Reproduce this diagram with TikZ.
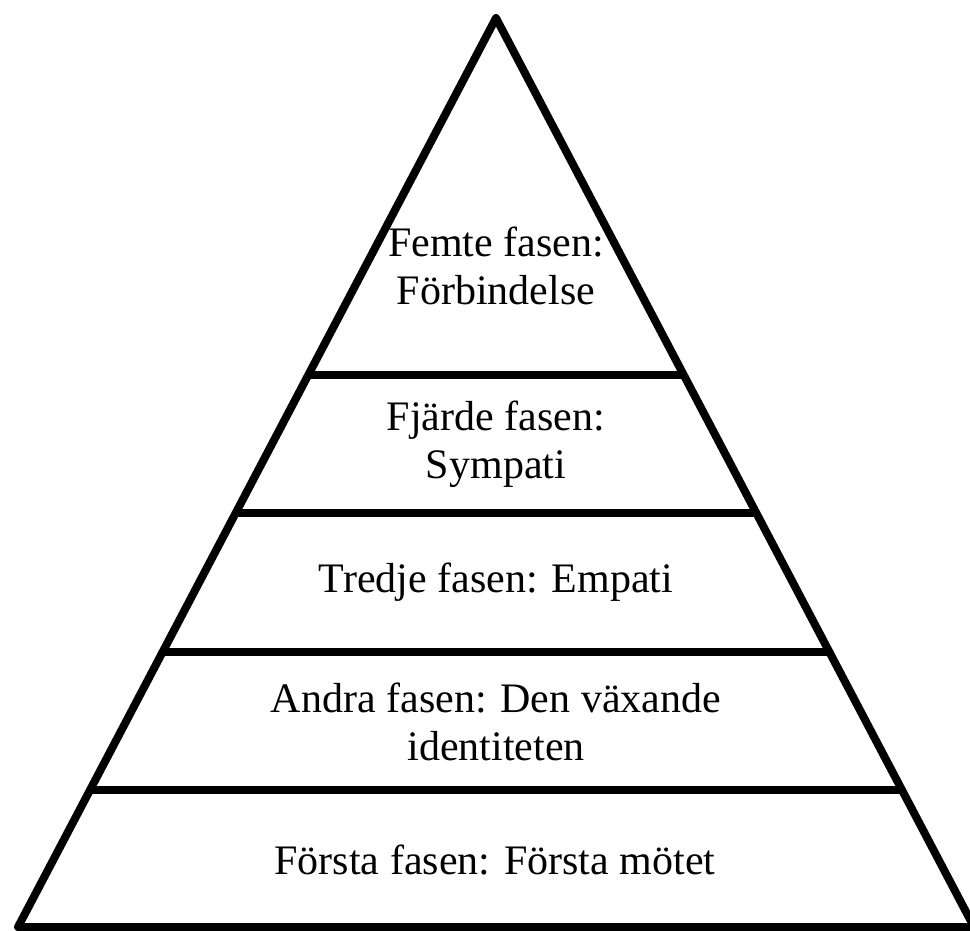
\documentclass[tikz,border=0pt]{standalone}
\usepackage{fontspec}
\setmainfont{Liberation Serif}
\usetikzlibrary{
  calc % 坐标计算
}
\tikzset{
  edge line/.style={
    line width=8pt,
    line join=round,
    color=black
  },
  tier line/.style={
    line width=8pt,
    color=black
  },
  tier label/.style={
    font=\fontsize{42}{48}\selectfont,
    align=center,
    inner sep=0pt
  }
}
\begin{document}
\begin{tikzpicture}[x=1pt, y=-1pt] % 整体思路：先画出金字塔三角形，再按比例取两腰上的点画出分层横线，最后逐层标注文字
  \useasboundingbox (0,0) rectangle (970,931); % 固定画面范围

  % 金字塔顶点
  \coordinate (T) at (496,18);  % 塔尖
  \coordinate (L) at (18,927);  % 左下角
  \coordinate (R) at (974,927); % 右下角

  % 外轮廓
  \draw[edge line] (T) -- (L) -- (R) -- cycle; % 画出三角形外框

  % 分层横线（按两腰上的比例取点）
  \foreach \t/\n in {0.3927/4, 0.5446/3, 0.6975/2, 0.8493/1} {
    \coordinate (l\n) at ($(T)!\t!(L)$); % 左腰上的分点
    \coordinate (r\n) at ($(T)!\t!(R)$); % 右腰上的分点
    \draw[tier line] (l\n) -- (r\n);     % 连接两分点得到横线
  }

  % 各层文字
  \node[tier label] (fas5) at (496,266) {Femte fasen:\\Förbindelse};          % 第五层
  \node[tier label] (fas4) at (496,444) {Fjärde fasen:\\Sympati};             % 第四层
  \node[tier label] (fas3) at (496,582) {Tredje fasen: Empati};               % 第三层
  \node[tier label] (fas2) at (496,722) {Andra fasen: Den växande\\identiteten}; % 第二层
  \node[tier label] (fas1) at (495,860) {Första fasen: Första mötet};         % 第一层
\end{tikzpicture}
\end{document}
